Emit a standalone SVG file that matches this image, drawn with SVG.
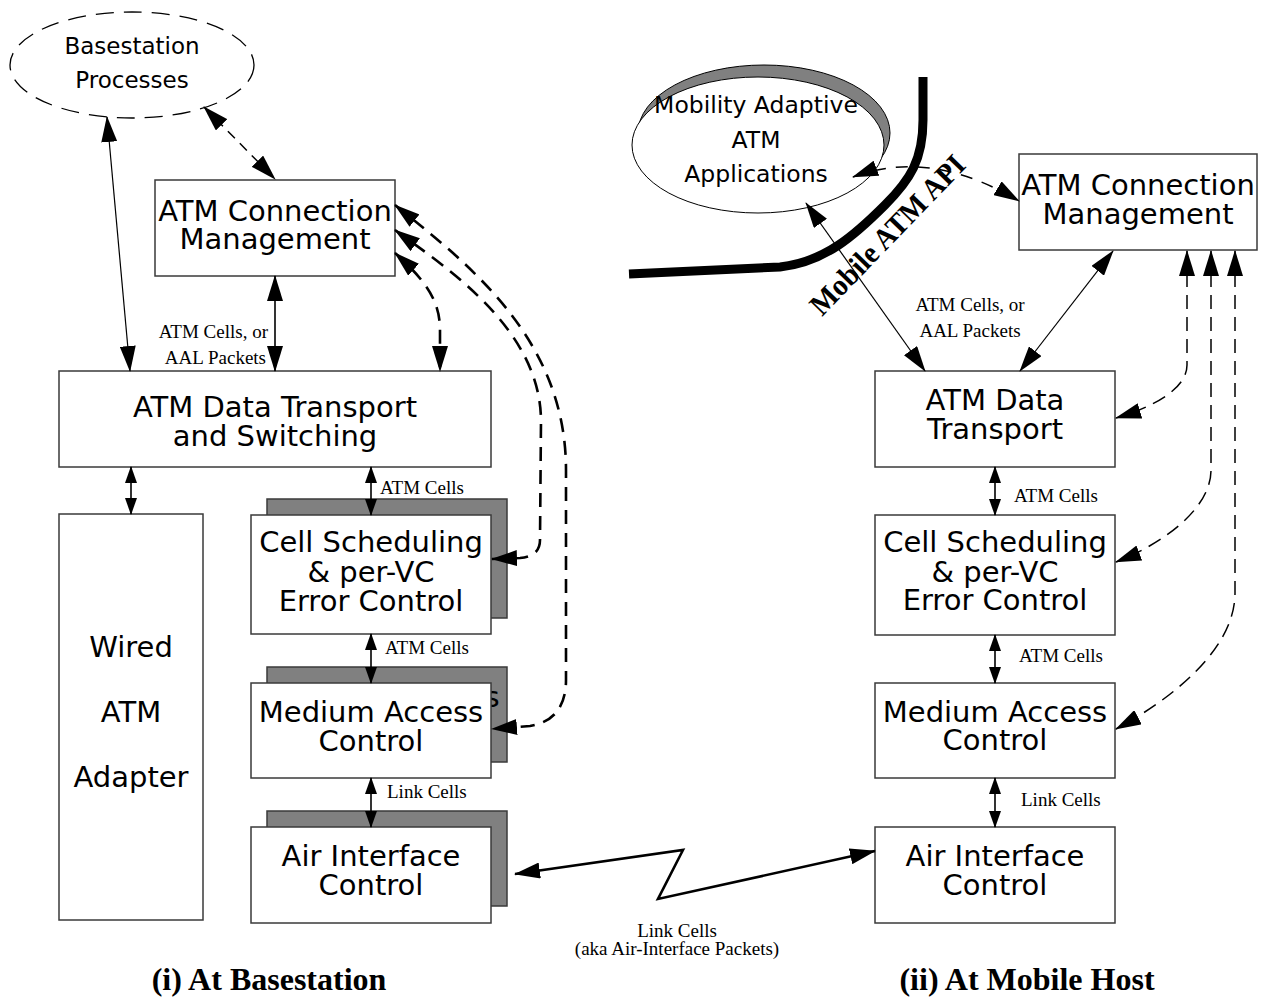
<svg xmlns="http://www.w3.org/2000/svg" width="1267" height="998" viewBox="0 0 1267 998">
<style>
.box{fill:#fff;stroke:#3a3a3a;stroke-width:1.5}
.shd{fill:#808080;stroke:#3a3a3a;stroke-width:1.5}
.big{font-family:"DejaVu Sans",sans-serif;font-size:29px;fill:#000;text-anchor:middle}
.mid{font-family:"DejaVu Sans",sans-serif;font-size:23px;fill:#000;text-anchor:middle}
.lbl{font-family:"Liberation Serif",serif;font-size:19px;fill:#000}
.ttl{font-family:"Liberation Serif",serif;font-size:32px;font-weight:bold;fill:#000;text-anchor:middle}
.thin{fill:none;stroke:#000;stroke-width:1.2}
.sol{fill:none;stroke:#000;stroke-width:1.6}
.dsh{fill:none;stroke:#000;stroke-width:1.5;stroke-dasharray:14 8}
.dthk{fill:none;stroke:#000;stroke-width:2.6;stroke-dasharray:14 9}
</style>
<defs>
<marker id="ah" markerUnits="userSpaceOnUse" viewBox="0 0 26 16" markerWidth="26" markerHeight="16" refX="25" refY="8" orient="auto-start-reverse"><path d="M0,0 L26,8 L0,16 Z" fill="#000" stroke="none"/></marker>
<marker id="as" markerUnits="userSpaceOnUse" viewBox="0 0 17 12" markerWidth="17" markerHeight="12" refX="16" refY="6" orient="auto-start-reverse"><path d="M0,0 L17,6 L0,12 Z" fill="#000" stroke="none"/></marker>
</defs>

<g id="basestation-processes">
<ellipse cx="132" cy="65" rx="122" ry="53" fill="none" stroke="#000" stroke-width="1.3" stroke-dasharray="18 10"/>
<text class="mid" x="132" y="54">Basestation</text>
<text class="mid" x="132" y="88">Processes</text>
</g>

<g id="bs-conn-mgmt">
<rect class="box" x="155" y="180" width="240" height="96"/>
<text class="big" x="275" y="221">ATM Connection</text>
<text class="big" x="275" y="249">Management</text>
</g>

<g id="bs-data-transport">
<rect class="box" x="59" y="371" width="432" height="96"/>
<text class="big" x="275" y="417">ATM Data Transport</text>
<text class="big" x="275" y="446">and Switching</text>
</g>

<g id="wired-adapter">
<rect class="box" x="59" y="514" width="144" height="406"/>
<text class="big" x="131" y="657">Wired</text>
<text class="big" x="131" y="722">ATM</text>
<text class="big" x="131" y="787">Adapter</text>
</g>

<g id="bs-cell-sched">
<rect class="shd" x="267" y="499" width="240" height="119"/>
<rect class="box" x="251" y="515" width="240" height="119"/>
<text class="big" x="371" y="552">Cell Scheduling</text>
<text class="big" x="371" y="582">&amp; per-VC</text>
<text class="big" x="371" y="611">Error Control</text>
</g>

<g id="bs-mac">
<rect class="shd" x="267" y="667" width="240" height="95"/>
<text class="big" x="492" y="707">s</text>
<rect class="box" x="251" y="683" width="240" height="95"/>
<text class="big" x="371" y="722">Medium Access</text>
<text class="big" x="371" y="751">Control</text>
</g>

<g id="bs-air">
<rect class="shd" x="267" y="811" width="240" height="95"/>
<rect class="box" x="251" y="827" width="240" height="96"/>
<text class="big" x="371" y="866">Air Interface</text>
<text class="big" x="371" y="895">Control</text>
</g>

<g id="mobility-apps">
<ellipse cx="764" cy="133" rx="126" ry="68" fill="#808080" stroke="#000" stroke-width="1"/>
<ellipse cx="758" cy="145" rx="126" ry="68" fill="#fff" stroke="#000" stroke-width="1"/>
<text class="mid" x="756" y="113" style="font-size:23.5px">Mobility Adaptive</text>
<text class="mid" x="756" y="148" style="font-size:23.5px">ATM</text>
<text class="mid" x="756" y="182" style="font-size:23.5px">Applications</text>
</g>

<g id="mobile-atm-api">
<path d="M923,77 L923,120 C923,160 910,180 885,205 C855,235 825,262 780,267 L629,274" fill="none" stroke="#000" stroke-width="9"/>
<text x="822" y="317" transform="rotate(-46 822 317)" textLength="209" lengthAdjust="spacingAndGlyphs" style="font-family:'Liberation Serif',serif;font-size:30px;font-weight:bold">Mobile ATM API</text>
</g>

<g id="mh-conn-mgmt">
<rect class="box" x="1019" y="154" width="238" height="96"/>
<text class="big" x="1138" y="195">ATM Connection</text>
<text class="big" x="1138" y="224">Management</text>
</g>

<g id="mh-data-transport">
<rect class="box" x="875" y="371" width="240" height="96"/>
<text class="big" x="995" y="410">ATM Data</text>
<text class="big" x="995" y="439">Transport</text>
</g>

<g id="mh-cell-sched">
<rect class="box" x="875" y="515" width="240" height="120"/>
<text class="big" x="995" y="552">Cell Scheduling</text>
<text class="big" x="995" y="582">&amp; per-VC</text>
<text class="big" x="995" y="610">Error Control</text>
</g>

<g id="mh-mac">
<rect class="box" x="875" y="683" width="240" height="95"/>
<text class="big" x="995" y="722">Medium Access</text>
<text class="big" x="995" y="750">Control</text>
</g>

<g id="mh-air">
<rect class="box" x="875" y="827" width="240" height="96"/>
<text class="big" x="995" y="866">Air Interface</text>
<text class="big" x="995" y="895">Control</text>
</g>

<g id="connectors">
<path class="thin" d="M107,117 L130,371" marker-start="url(#ah)" marker-end="url(#ah)"/>
<path class="dsh" d="M204,107 L275,179" marker-start="url(#ah)" marker-end="url(#ah)" style="stroke-dasharray:10 7"/>
<path class="sol" d="M275,276 L275,371" marker-start="url(#ah)" marker-end="url(#ah)"/>
<path class="sol" d="M131,467 L131,514" marker-start="url(#as)" marker-end="url(#as)"/>
<path class="sol" d="M371,467 L371,515" marker-start="url(#as)" marker-end="url(#as)"/>
<path class="sol" d="M371,634 L371,683" marker-start="url(#as)" marker-end="url(#as)"/>
<path class="sol" d="M371,778 L371,827" marker-start="url(#as)" marker-end="url(#as)"/>
<path class="dthk" d="M395,253 C425,280 440,300 440,330 L440,371" marker-start="url(#ah)" marker-end="url(#ah)"/>
<path class="dthk" d="M395,230 C450,270 540,330 541,420 L540,540 C540,552 532,557 520,558 L492,559" marker-start="url(#ah)" marker-end="url(#ah)"/>
<path class="dthk" d="M395,205 C470,265 566,340 566,470 L566,680 C566,705 555,722 530,726 L492,729" marker-start="url(#ah)" marker-end="url(#ah)"/>

<path class="dsh" d="M853,177 Q930,148 1019,201" marker-start="url(#ah)" marker-end="url(#ah)" style="stroke-dasharray:12 10"/>
<path class="thin" d="M806,203 L925,371" marker-start="url(#ah)" marker-end="url(#ah)"/>
<path class="thin" d="M1113,251 L1020,371" marker-start="url(#ah)" marker-end="url(#ah)"/>
<path class="sol" d="M995,467 L995,515" marker-start="url(#as)" marker-end="url(#as)"/>
<path class="sol" d="M995,635 L995,683" marker-start="url(#as)" marker-end="url(#as)"/>
<path class="sol" d="M995,778 L995,827" marker-start="url(#as)" marker-end="url(#as)"/>
<path class="dsh" d="M1187,251 L1187,365 C1187,390 1150,408 1116,418" marker-start="url(#ah)" marker-end="url(#ah)"/>
<path class="dsh" d="M1211,251 L1211,470 C1211,510 1160,545 1116,562" marker-start="url(#ah)" marker-end="url(#ah)"/>
<path class="dsh" d="M1235,251 L1235,593 C1235,650 1170,700 1116,729" marker-start="url(#ah)" marker-end="url(#ah)"/>

<path d="M515,874 L683,850 L658,899 L875,851" fill="none" stroke="#000" stroke-width="2.6" stroke-linejoin="miter" marker-start="url(#ah)" marker-end="url(#ah)"/>
</g>

<g id="labels">
<text class="lbl" x="268" y="338" text-anchor="end">ATM Cells, or</text>
<text class="lbl" x="266" y="364" text-anchor="end">AAL Packets</text>
<text class="lbl" x="380" y="494">ATM Cells</text>
<text class="lbl" x="385" y="654">ATM Cells</text>
<text class="lbl" x="387" y="798">Link Cells</text>
<text class="lbl" x="970" y="311" text-anchor="middle">ATM Cells, or</text>
<text class="lbl" x="970" y="337" text-anchor="middle">AAL Packets</text>
<text class="lbl" x="1014" y="502">ATM Cells</text>
<text class="lbl" x="1019" y="662">ATM Cells</text>
<text class="lbl" x="1021" y="806">Link Cells</text>
<text class="lbl" x="677" y="937" text-anchor="middle">Link Cells</text>
<text class="lbl" x="677" y="955" text-anchor="middle">(aka Air-Interface Packets)</text>
<text class="ttl" x="269" y="990">(i) At Basestation</text>
<text class="ttl" x="1027" y="990">(ii) At Mobile Host</text>
</g>
</svg>
